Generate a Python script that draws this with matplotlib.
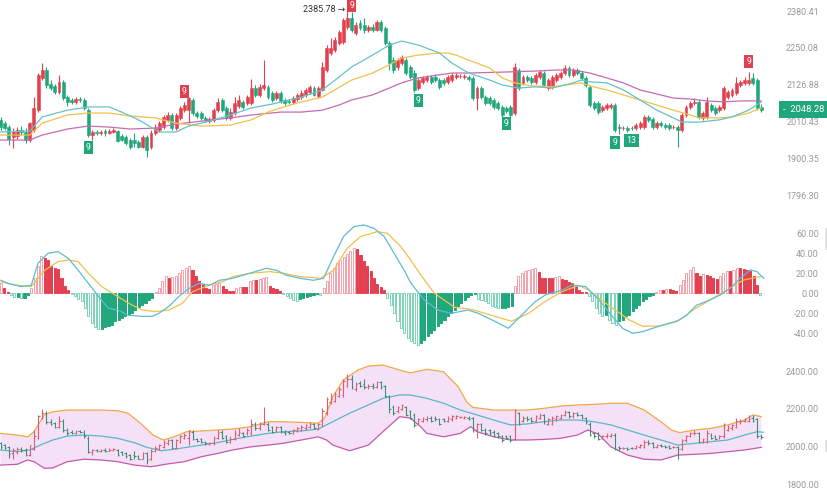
import numpy as np
import matplotlib
matplotlib.use('Agg')
import matplotlib.pyplot as plt
import matplotlib.transforms as mtransforms
from matplotlib.collections import LineCollection
from matplotlib.patches import Rectangle
from matplotlib.ticker import FixedLocator, NullLocator

plt.rcParams['font.family'] = ['Roboto', 'DejaVu Sans']

# ---------------------------------------------------------------------------
# price data (daily OHLC)
# ---------------------------------------------------------------------------
k_open = [2017, 2007, 1995, 1965, 1968, 1986, 1980, 1956, 1986, 2047,
          2150, 2176, 2130, 2124, 2104, 2137, 2088, 2079, 2073, 2082,
          2079, 2047, 1971, 1980, 1977, 1983, 1977, 1980, 1983, 1968,
          1965, 1956, 1956, 1950, 1935, 1965, 1935, 1977, 1986, 1995,
          2017, 2032, 1992, 2023, 2047, 2047, 2079, 2038, 2038, 2023,
          2013, 2017, 2047, 2079, 2054, 2023, 2038, 2060, 2073, 2069,
          2069, 2117, 2095, 2117, 2121, 2101, 2085, 2101, 2079, 2076,
          2073, 2082, 2088, 2095, 2104, 2117, 2092, 2111, 2176, 2233,
          2243, 2267, 2271, 2323, 2355, 2302, 2337, 2330, 2313, 2323,
          2313, 2341, 2320, 2267, 2209, 2186, 2199, 2209, 2186, 2166,
          2117, 2137, 2143, 2153, 2153, 2143, 2143, 2137, 2143, 2153,
          2156, 2153, 2153, 2150, 2085, 2117, 2088, 2085, 2079, 2069,
          2057, 2054, 2057, 2038, 2176, 2134, 2153, 2150, 2137, 2153,
          2166, 2117, 2121, 2143, 2153, 2166, 2183, 2160, 2176, 2166,
          2150, 2121, 2069, 2069, 2047, 2054, 2057, 2063, 1995, 1992,
          1992, 1992, 1992, 1995, 1995, 2026, 2020, 1995, 2007, 2001,
          2001, 1995, 1995, 1986, 2032, 2057, 2069, 2073, 2023, 2026,
          2063, 2054, 2047, 2054, 2088, 2095, 2101, 2127, 2134, 2134,
          2150, 2143, 2057]
k_high = [2026, 2013, 2001, 1992, 1995, 1998, 1992, 2010, 2088, 2166,
          2199, 2186, 2143, 2130, 2160, 2143, 2095, 2085, 2088, 2088,
          2085, 2054, 1986, 1986, 1986, 1989, 1989, 1992, 1986, 1974,
          1971, 1962, 1977, 1956, 1971, 1971, 1986, 2004, 2013, 2032,
          2041, 2038, 2038, 2060, 2073, 2088, 2085, 2044, 2044, 2029,
          2026, 2054, 2085, 2085, 2060, 2054, 2088, 2095, 2079, 2095,
          2146, 2127, 2130, 2209, 2127, 2108, 2108, 2108, 2085, 2082,
          2092, 2101, 2111, 2117, 2127, 2124, 2124, 2203, 2260, 2285,
          2288, 2313, 2355, 2385.78, 2377, 2341, 2348, 2355, 2330, 2334,
          2348, 2348, 2327, 2274, 2220, 2216, 2226, 2216, 2193, 2176,
          2150, 2156, 2160, 2160, 2163, 2150, 2150, 2160, 2166, 2166,
          2163, 2163, 2160, 2156, 2124, 2124, 2095, 2092, 2085, 2076,
          2063, 2060, 2063, 2199, 2183, 2160, 2160, 2156, 2166, 2176,
          2173, 2150, 2160, 2166, 2173, 2193, 2189, 2183, 2183, 2173,
          2156, 2127, 2076, 2076, 2063, 2069, 2069, 2069, 2004, 1998,
          1998, 1998, 2007, 2013, 2032, 2032, 2026, 2013, 2013, 2007,
          2007, 2001, 2001, 2038, 2063, 2076, 2085, 2079, 2044, 2088,
          2069, 2060, 2063, 2124, 2111, 2117, 2153, 2143, 2153, 2169,
          2166, 2150, 2066]
k_low = [1986, 1986, 1941, 1932, 1959, 1971, 1947, 1950, 1980, 2041,
         2143, 2117, 2111, 2098, 2098, 2079, 2060, 2066, 2066, 2073,
         2047, 1965, 1956, 1971, 1971, 1968, 1974, 1977, 1950, 1953,
         1941, 1929, 1935, 1932, 1932, 1906, 1929, 1971, 1980, 1989,
         2010, 1986, 1986, 2017, 2041, 2007, 2032, 2023, 2017, 2010,
         2007, 2010, 2041, 2041, 2017, 2017, 2032, 2054, 2050, 2063,
         2063, 2088, 2088, 2111, 2082, 2073, 2079, 2069, 2063, 2066,
         2066, 2076, 2082, 2088, 2098, 2092, 2085, 2108, 2169, 2226,
         2236, 2260, 2264, 2316, 2306, 2295, 2313, 2302, 2306, 2306,
         2309, 2306, 2260, 2176, 2166, 2176, 2193, 2160, 2146, 2104,
         2111, 2130, 2137, 2130, 2137, 2114, 2127, 2130, 2137, 2146,
         2150, 2146, 2140, 2079, 2047, 2082, 2063, 2063, 2050, 2047,
         2026, 2038, 2026, 2032, 2111, 2127, 2137, 2130, 2130, 2146,
         2121, 2111, 2114, 2137, 2146, 2160, 2153, 2153, 2160, 2143,
         2121, 2057, 2047, 2035, 2041, 2047, 2050, 1980, 1974, 1986,
         1980, 1986, 1986, 1989, 1989, 2010, 1989, 1989, 1995, 1989,
         1986, 1989, 1935, 1980, 2026, 2050, 2063, 2020, 2017, 2020,
         2041, 2032, 2041, 2047, 2082, 2088, 2095, 2121, 2127, 2127,
         2127, 2047, 2041]
k_close = [1995, 1992, 1959, 1983, 1986, 1980, 1956, 2007, 2054, 2160,
           2176, 2127, 2117, 2104, 2137, 2085, 2073, 2073, 2082, 2079,
           2054, 1971, 1980, 1977, 1980, 1977, 1983, 1986, 1953, 1956,
           1947, 1935, 1947, 1935, 1965, 1927, 1977, 1992, 2007, 2026,
           2032, 1992, 2032, 2054, 2063, 2085, 2038, 2029, 2023, 2017,
           2020, 2047, 2073, 2047, 2023, 2041, 2069, 2079, 2057, 2088,
           2117, 2095, 2121, 2127, 2088, 2079, 2101, 2076, 2069, 2073,
           2085, 2095, 2101, 2111, 2121, 2095, 2117, 2186, 2250, 2250,
           2278, 2306, 2348, 2355, 2313, 2330, 2320, 2313, 2323, 2313,
           2341, 2313, 2267, 2199, 2176, 2209, 2220, 2166, 2153, 2111,
           2143, 2150, 2153, 2137, 2143, 2121, 2134, 2153, 2160, 2160,
           2157, 2156, 2146, 2085, 2117, 2088, 2069, 2069, 2057, 2054,
           2032, 2044, 2032, 2186, 2117, 2153, 2143, 2137, 2160, 2169,
           2127, 2143, 2153, 2160, 2166, 2183, 2160, 2176, 2166, 2150,
           2127, 2063, 2054, 2041, 2057, 2063, 2063, 1986, 1992, 1993,
           1986, 1991, 2001, 2007, 2026, 2017, 1995, 2007, 2001, 1995,
           1992, 1996, 1986, 2032, 2057, 2069, 2073, 2026, 2038, 2073,
           2047, 2038, 2057, 2117, 2104, 2111, 2134, 2137, 2143, 2143,
           2134, 2054, 2048.28]

# moving averages (sampled along the candle index)
ma_fast_idx = [0, 7, 10, 16, 21, 26, 29, 33, 38, 42, 45, 50, 55, 60, 65, 69,
               72, 77, 81, 84, 89, 93, 96, 100, 105, 108, 112, 117, 120, 124,
               128, 132, 137, 139, 141, 145, 149, 153, 157, 161, 163, 167,
               172, 175, 179, 182]
ma_fast = [1980, 1983, 2026, 2047, 2057, 2057, 2041, 2017, 1980, 1980, 1998,
           2013, 2032, 2054, 2066, 2079, 2088, 2111, 2153, 2186, 2226, 2260,
           2274, 2260, 2233, 2199, 2166, 2143, 2127, 2117, 2121, 2117, 2134,
           2143, 2137, 2134, 2111, 2079, 2047, 2023, 2010, 2010, 2017, 2026,
           2047, 2073]
ma_mid_idx = [0, 7, 10, 16, 21, 26, 31, 37, 42, 48, 55, 60, 64, 67, 72, 77,
              84, 89, 93, 96, 100, 105, 107, 109, 112, 117, 120, 123, 127,
              132, 137, 139, 141, 145, 149, 153, 157, 161, 165, 167, 172,
              175, 179, 182]
ma_mid = [1971, 1971, 2007, 2032, 2038, 2038, 2029, 2023, 2007, 1998, 2001,
          2017, 2041, 2054, 2073, 2088, 2143, 2166, 2193, 2216, 2226, 2233,
          2233, 2226, 2209, 2183, 2150, 2134, 2124, 2121, 2130, 2134, 2124,
          2111, 2095, 2079, 2063, 2047, 2032, 2023, 2023, 2026, 2038, 2054]
ma_slow_idx = [0, 7, 10, 16, 21, 26, 31, 37, 42, 48, 55, 60, 67, 72, 77, 81,
               84, 89, 93, 96, 100, 105, 108, 112, 120, 129, 133, 137, 141,
               145, 149, 153, 157, 161, 165, 169, 173, 177, 182]
ma_slow = [1956, 1956, 1971, 1989, 1998, 1995, 1989, 1992, 2004, 2013, 2023,
           2032, 2041, 2041, 2047, 2063, 2079, 2095, 2117, 2134, 2150, 2160,
           2166, 2166, 2169, 2173, 2176, 2176, 2166, 2150, 2134, 2111, 2098,
           2085, 2082, 2076, 2073, 2076, 2076]

# TD sequential counts
td_idx = [21, 44, 84, 100, 121, 147, 151, 179]
td_text = ['9', '9', '9', '9', '9', '9', '13', '9']
td_side = ['low', 'high', 'high', 'low', 'low', 'low', 'low', 'high']

# MACD
macd_hist = [10, 5, 1,
             -2, -4, -4, -5, -5, -2,
             5, 15, 27, 37, 35, 33, 27, 25, 24, 15, 7, 3,
             -1, -3, -6, -8, -15, -23, -30, -34, -36, -36, -34, -33, -32, -28,
             -27, -25, -23, -22, -20, -17, -14, -12, -10, -7, -5,
             1, 5, 12, 17, 15, 16, 17, 20, 23, 25, 27, 23, 17, 12, 9, 5, 4, 8,
             9, 10, 7, 4, 2, 2, 5, 6, 6, 6, 12, 13, 13, 14, 15, 16, 7, 5, 4, 2,
             -1, -3, -5, -7, -8, -6, -5, -4, -3, -2, -1, -2,
             5, 12, 20, 25, 30, 33, 36, 39, 42, 45, 44, 38, 32, 27, 22, 15, 9,
             6, 3,
             -5, -12, -20, -28, -35, -40, -45, -48, -50, -52, -50, -47, -43,
             -40, -37, -33, -30, -27, -23, -20, -17, -13, -10, -7, -4, -2,
             -1, -6, -7, -8, -10, -13, -14, -15, -15, -15, -14, -13,
             7, 17, 20, 22, 23, 24, 25, 21, 15, 15, 15, 15, 16, 17, 14, 13, 11,
             10, 7, 3, 1, 1,
             -3, -8, -15, -20, -23, -22, -27, -30, -32, -28, -27, -23, -22,
             -18, -15, -12, -8, -6, -3, -2,
             1, 3, 3, 4, 4, 3, 2,
             8, 13, 20, 23, 26, 20, 17, 19, 18, 17, 15, 14, 17, 20, 22, 22, 23,
             25, 25, 24, 23, 22, 17, 8,
             -2]
dif_idx = [0, 2, 6, 9, 11, 14, 17, 20, 23, 26, 29, 32, 35, 38, 42, 45, 47, 50,
           53, 56, 59, 62, 65, 69, 74, 79, 82, 85, 89, 93, 96, 99, 102, 105,
           108, 111, 114, 117, 120, 122, 126, 130, 134, 139, 142, 147, 151,
           155, 159, 162, 167, 170, 174, 178, 182, 185, 188, 191, 196, 201,
           204, 207, 211, 214, 217, 220, 223, 225, 227]
dif = [13, 10, 6.7, 8, 30, 40, 41.7, 35, 23, 10, -3, -15, -17, -22, -23, -23,
       -20, -13, -3, 5, 10, 8, 13, 15, 20, 25, 23, 18, 15, 13, 15, 37, 57,
       66.7, 68.3, 65, 57, 40, 23, 10, -6.7, -16.7, -20, -16.7, -20, -28, -35,
       -21.7, -8.3, -1.7, 3.3, 8.3, 6.7, -6.7, -23.3, -35, -40, -38.3, -32.7,
       -28.3, -22, -12, -6.7, -1.7, 5, 15, 23.3, 21.7, 15]
dea_idx = [0, 4, 9, 13, 17, 20, 23, 26, 30, 34, 38, 42, 46, 50, 54, 57, 62,
           66, 69, 74, 80, 84, 89, 95, 99, 103, 107, 112, 115, 119, 122, 125,
           129, 135, 140, 146, 152, 157, 162, 167, 172, 175, 180, 187, 191,
           196, 202, 206, 211, 216, 221, 226]
dea = [11.7, 8.3, 6.7, 23, 31.7, 33.3, 31.7, 20, 6.7, -1.7, -10, -16.7, -18.3,
       -16.7, -10, 1.7, 8.3, 11.7, 16.7, 20, 21.7, 20, 16.7, 15, 23, 45, 56.7,
       61.7, 60, 46.7, 33, 18, 0, -14, -16, -22, -28, -20, -8, 1.7, 8, 3, -10,
       -26.7, -33, -32.7, -26.7, -16.7, -6.7, 3.3, 13.3, 16.7]

# Bollinger bands (sampled along the candle index)
bb_up_idx = [0, 4, 6.5, 8, 10.5, 12.5, 16, 20, 24, 28, 30.5, 33.5, 36.5, 39,
             41.5, 44.5, 48, 52, 55.5, 60, 64, 67.5, 72, 76, 77.5, 79.5, 82,
             85.5, 88, 91.5, 95.5, 98, 102, 106, 109.5, 111.5, 113, 118, 122,
             126, 130, 134, 138, 142, 146, 150, 154, 158, 160.5, 162.5, 166,
             170, 174, 178, 180, 182]
bb_up = [2069, 2060, 2051, 2078, 2167, 2184, 2193, 2193, 2193, 2189, 2176,
         2123, 2060, 2034, 2051, 2078, 2082, 2087, 2092, 2105, 2131, 2131,
         2127, 2123, 2149, 2264, 2352, 2405, 2426, 2432, 2405, 2390, 2409,
         2396, 2317, 2237, 2207, 2193, 2193, 2193, 2202, 2214, 2220, 2223,
         2229, 2229, 2193, 2131, 2087, 2073, 2087, 2096, 2114, 2140, 2167, 2158]
bb_mid_idx = [0, 4, 7, 9.5, 12.5, 16, 20, 24, 28, 32, 35, 38.5, 41.5, 44.5,
              48, 52, 55.5, 60, 64, 67.5, 72, 76, 79.5, 83.5, 88, 91.5, 95.5,
              98, 102, 106, 110, 114, 118, 122, 126, 130, 134, 138, 142, 146,
              150, 154, 158, 162, 166, 170, 174, 178, 181, 182.5]
bb_mid = [1981, 1972, 1981, 2007, 2034, 2055, 2060, 2055, 2043, 2020, 1995,
          1977, 1985, 1995, 2007, 2020, 2037, 2055, 2069, 2078, 2082, 2092,
          2131, 2176, 2220, 2255, 2273, 2273, 2255, 2229, 2193, 2167, 2140,
          2114, 2119, 2131, 2140, 2140, 2131, 2114, 2087, 2060, 2034, 2007,
          2016, 2025, 2034, 2060, 2078, 2075]
bb_low_idx = [0, 4, 6.5, 8, 10.5, 12.5, 16, 20, 24, 28, 32, 36, 40, 44, 48,
              52, 55.5, 60, 64, 67.5, 72, 76, 78, 79.5, 83.5, 88, 91.5, 95.5,
              98, 100.5, 102, 106, 110, 112.5, 114, 118, 122, 126, 130, 134,
              138, 140.5, 143, 146, 150, 154, 158, 162, 166, 170, 174, 178, 182]
bb_low = [1901, 1905, 1928, 1919, 1884, 1886, 1919, 1932, 1928, 1919, 1901,
          1892, 1907, 1919, 1945, 1963, 1981, 1998, 2007, 2016, 2034, 2051,
          2034, 2007, 1977, 2007, 2078, 2158, 2150, 2105, 2069, 2051, 2069,
          2105, 2078, 2051, 2034, 2034, 2037, 2043, 2060, 2087, 2065, 1998,
          1954, 1932, 1928, 1954, 1958, 1963, 1972, 1981, 1995]

price_ticks = [1796.30, 1900.35, 2010.43, 2126.88, 2250.08, 2380.41]
macd_ticks = [-40, -20, 0, 20, 40, 60]
bb_ticks = [1800, 2000, 2200, 2400]

# ---------------------------------------------------------------------------
# styling / layout
# ---------------------------------------------------------------------------
RED, GREEN = '#e2404f', '#1fa77b'
RED_LIGHT, GREEN_LIGHT = '#f2a2ad', '#7dd3b8'
TEAL, YELLOW, PURPLE = '#64c4c6', '#f1c04d', '#c46bb2'
LABEL = '#999999'
W, H = 828, 494
STEP_K = 4.18      # px per candle
STEP_M = 3.36      # px per macd bar
PLOT_W = 780

fig = plt.figure(figsize=(W / 100, H / 100), dpi=100)


def px_axes(y0, y1):
    ax = fig.add_axes([0, 1 - y1 / H, PLOT_W / W, (y1 - y0) / H])
    for s in ax.spines.values():
        s.set_visible(False)
    ax.set_xticks([])
    ax.yaxis.tick_right()
    ax.tick_params(axis='y', length=0, pad=28, labelsize=6.5, labelcolor=LABEL)
    return ax


def right_labels(ax, ticks):
    ax.yaxis.set_major_locator(FixedLocator(ticks))
    ax.yaxis.set_minor_locator(NullLocator())
    ax.set_yticklabels([f'{t:.2f}' for t in ticks])
    ax.yaxis.set_minor_formatter(plt.NullFormatter())
    plt.setp(ax.get_yticklabels(), ha='right')


ax_k = px_axes(0, 215)
ax_m = px_axes(218, 355)
ax_b = px_axes(355, 494)

o = np.array(k_open, float)
h = np.array(k_high, float)
l = np.array(k_low, float)
c = np.array(k_close, float)
idx = np.arange(len(c))
up = c >= o
col = np.where(up, RED, GREEN)

# ---------------------------------------------------------------------------
# Panel 1 - candles + moving averages
# ---------------------------------------------------------------------------
ax_k.set_yscale('log')
ax_k.set_xlim(-0.5 / STEP_K, (PLOT_W - 0.5) / STEP_K)
ax_k.set_ylim(1745.1, 2420.6)
ax_k.vlines(idx, l, h, colors=col, lw=0.8, zorder=2)
ax_k.bar(idx, np.abs(c - o), bottom=np.minimum(o, c), width=0.7,
         color=col, edgecolor=col, linewidth=0.4, zorder=2)
ax_k.plot(ma_slow_idx, ma_slow, color=PURPLE, lw=0.9, zorder=3)
ax_k.plot(ma_mid_idx, ma_mid, color=YELLOW, lw=0.9, zorder=3)
ax_k.plot(ma_fast_idx, ma_fast, color=TEAL, lw=0.9, zorder=3)
right_labels(ax_k, price_ticks)

for i, t, side in zip(td_idx, td_text, td_side):
    if side == 'high':
        # keep the marker on the canvas when it sits on the very top candle
        y, dy, fc = h[i], (7.5 if h[i] < 2360 else 4.5), RED
    else:
        y, dy, fc = l[i], -7.5, GREEN
    ax_k.annotate(t, (i, y), xytext=(0, dy), textcoords='offset points',
                  ha='center', va='center', color='white', fontsize=6.3,
                  bbox=dict(boxstyle='square,pad=0.25', fc=fc, ec='none'),
                  zorder=5)

top = int(np.argmax(h))
ax_k.annotate(f'{h[top]:.2f} \u2192', (top, h[top]), xytext=(-1.5, 0),
              textcoords='offset points', ha='right', va='center',
              fontsize=6.5, color='#333333')

blend = mtransforms.blended_transform_factory(ax_k.transAxes, ax_k.transData)
ax_k.text(1 + 3 / PLOT_W, c[-1], f'-  {c[-1]:.2f}', transform=blend,
          ha='left', va='center', fontsize=6.8, color='white', clip_on=False,
          bbox=dict(boxstyle='square,pad=0.4', fc=GREEN, ec='none'), zorder=6)

# ---------------------------------------------------------------------------
# Panel 2 - MACD
# ---------------------------------------------------------------------------
hist = np.array(macd_hist, float)
prev = np.concatenate([[0.0], hist[:-1]])
growing = (np.abs(hist) > np.abs(prev)) | (np.sign(hist) != np.sign(prev))
jj = np.arange(len(hist))
pos = hist >= 0
edge = np.where(pos, np.where(growing, RED_LIGHT, RED),
                np.where(growing, GREEN_LIGHT, GREEN))
face = np.where(growing, 'white', np.where(pos, RED, GREEN))
ax_m.bar(jj, hist, width=0.62, color=face, edgecolor=edge, linewidth=0.7,
         zorder=2)
ax_m.plot(dea_idx, dea, color=YELLOW, lw=0.9, zorder=3)
ax_m.plot(dif_idx, dif, color='#5fbcd3', lw=0.9, zorder=3)
ax_m.set_xlim(-1 / STEP_M, (PLOT_W - 1) / STEP_M)
ax_m.set_ylim(293.3 - 355, 293.3 - 218)
right_labels(ax_m, macd_ticks)

# ---------------------------------------------------------------------------
# Panel 3 - Bollinger bands + OHLC bars
# ---------------------------------------------------------------------------
ax_b.set_xlim(-0.5 / STEP_K, (PLOT_W - 0.5) / STEP_K)
ax_b.set_ylim(1747.5, 2484.9)
ax_b.fill(list(bb_up_idx) + list(bb_low_idx)[::-1],
          list(bb_up) + list(bb_low)[::-1], color='#f5e1f7', lw=0, zorder=1)
ax_b.plot(bb_up_idx, bb_up, color='#f0a946', lw=0.9, zorder=2)
ax_b.plot(bb_mid_idx, bb_mid, color='#5ab6c8', lw=0.9, zorder=2)
ax_b.plot(bb_low_idx, bb_low, color='#c45aa8', lw=0.9, zorder=2)
segs = []
for i in idx:
    segs.append([(i, l[i]), (i, h[i])])
    segs.append([(i - 0.38, o[i]), (i, o[i])])
    segs.append([(i, c[i]), (i + 0.38, c[i])])
seg_col = np.repeat(np.where(up, '#d9606f', '#3f8c7d'), 3)
ax_b.add_collection(LineCollection(segs, colors=seg_col, linewidths=0.8,
                                   zorder=3))
right_labels(ax_b, bb_ticks)

# small scroll handles at the right edge
for y0, y1 in [(228, 250), (440, 452)]:
    fig.add_artist(Rectangle((825 / W, 1 - y1 / H), 3 / W, (y1 - y0) / H,
                             transform=fig.transFigure, color='#e4e4e4',
                             lw=0))

fig.savefig('out.png', dpi=100, facecolor='white')
